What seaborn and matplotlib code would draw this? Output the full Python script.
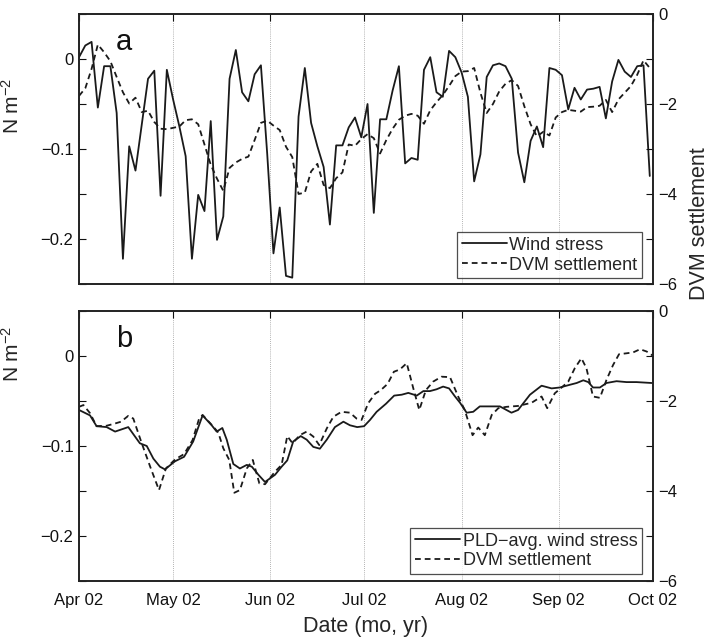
# =========================================
# IMPORT LIBRARIES
# =========================================

import numpy as np
import pandas as pd
import matplotlib
matplotlib.use("Agg")
import matplotlib.pyplot as plt
import matplotlib.dates as mdates
from matplotlib.ticker import MultipleLocator
from matplotlib.lines import Line2D
import seaborn as sns

# =========================================
# DATA
# =========================================

start = pd.Timestamp("2002-04-01")

# panel a: 2-day samples from Apr 1
days_a = np.arange(0, 184, 2)

wind_a = [0.002, 0.015, 0.019, -0.054, -0.008, -0.008, -0.060, -0.222, -0.097, -0.124,
          -0.073, -0.022, -0.013, -0.152, -0.012, -0.045, -0.075, -0.108, -0.222, -0.151,
          -0.169, -0.069, -0.201, -0.175, -0.022, 0.010, -0.037, -0.047, -0.017, -0.007,
          -0.105, -0.216, -0.165, -0.241, -0.243, -0.064, -0.010, -0.071, -0.097, -0.120,
          -0.184, -0.096, -0.096, -0.076, -0.065, -0.087, -0.050, -0.171, -0.067, -0.067,
          -0.035, -0.008, -0.116, -0.110, -0.112, -0.012, 0.002, -0.037, -0.042, 0.009,
          0.002, -0.015, -0.042, -0.136, -0.106, -0.020, -0.007, -0.005, -0.008, -0.022,
          -0.104, -0.137, -0.091, -0.075, -0.098, -0.010, -0.012, -0.018, -0.056, -0.032,
          -0.045, -0.034, -0.033, -0.031, -0.066, -0.025, -0.001, -0.014, -0.020, -0.008,
          -0.007, -0.130]

dvm_a = [-1.82, -1.65, -1.22, -0.68, -0.85, -1.05, -1.40, -1.74, -1.99, -1.86,
         -2.18, -2.15, -2.40, -2.55, -2.56, -2.53, -2.50, -2.36, -2.34, -2.45,
         -2.90, -3.35, -3.66, -3.93, -3.42, -3.30, -3.22, -3.17, -2.80, -2.42,
         -2.37, -2.48, -2.58, -2.95, -3.18, -4.00, -3.97, -3.50, -3.33, -3.80,
         -3.87, -3.65, -3.52, -2.90, -2.93, -2.78, -2.67, -2.76, -3.10, -2.80,
         -2.55, -2.35, -2.26, -2.22, -2.26, -2.44, -2.14, -1.96, -1.80, -1.60,
         -1.38, -1.28, -1.27, -1.20, -1.75, -2.20, -2.00, -1.72, -1.55, -1.47,
         -1.60, -2.05, -2.45, -2.72, -2.62, -2.70, -2.30, -2.18, -2.13, -2.15,
         -2.17, -2.07, -2.06, -2.04, -1.91, -2.18, -1.90, -1.75, -1.60, -1.35,
         -1.03, -1.20]

# panel b: PLD-averaged wind stress
days_b_wind = [0, 3.5, 5.6, 8.8, 11.5, 15.7, 19.4, 21.6, 23.7, 25.8,
               27.4, 30.6, 33.5, 36.4, 39.4, 42.3, 43.9, 45.7, 47.1, 49.2,
               51.3, 53.5, 55.1, 57.2, 59.3, 62.5, 64.6, 66.4, 68.3, 70.7,
               72.6, 74.7, 76.8, 79.0, 81.6, 84.3, 86.4, 88.7, 90.9, 92.8,
               94.9, 97.9, 100.5, 102.9, 105.0, 107.7, 109.8, 111.9, 114.0, 116.1,
               118.0, 119.9, 121.5, 123.6, 125.7, 127.8, 131.0, 134.2, 137.9, 140.0,
               143.8, 147.5, 150.7, 153.3, 156.5, 158.7, 160.8, 162.4, 163.9, 166.1,
               168.2, 171.4, 174.6, 177.8, 182.6]
wind_b = [-0.060, -0.066, -0.078, -0.079, -0.084, -0.079, -0.097, -0.100, -0.114, -0.123,
          -0.126, -0.117, -0.112, -0.095, -0.066, -0.077, -0.084, -0.080, -0.093, -0.120,
          -0.125, -0.121, -0.123, -0.132, -0.140, -0.132, -0.123, -0.116, -0.095, -0.089,
          -0.093, -0.101, -0.103, -0.093, -0.079, -0.073, -0.077, -0.079, -0.078, -0.071,
          -0.062, -0.053, -0.044, -0.043, -0.041, -0.044, -0.039, -0.039, -0.037, -0.034,
          -0.036, -0.045, -0.052, -0.063, -0.062, -0.056, -0.056, -0.056, -0.063, -0.060,
          -0.043, -0.033, -0.036, -0.035, -0.032, -0.030, -0.027, -0.029, -0.035, -0.035,
          -0.030, -0.028, -0.029, -0.029, -0.030]

# panel b: DVM settlement
days_b_dvm = [0, 1.4, 3.5, 5.6, 8.8, 11.5, 13.4, 15.7, 17.3, 20.0,
              22.9, 25.5, 27.7, 30.6, 33.5, 36.2, 38.3, 39.4, 42.3, 44.4,
              46.0, 47.9, 49.5, 51.3, 53.5, 55.4, 57.5, 59.3, 62.5, 64.6,
              66.4, 68.1, 70.4, 72.6, 74.7, 76.6, 79.0, 81.1, 83.7, 86.4,
              88.5, 90.1, 92.2, 94.4, 96.2, 98.4, 100.4, 102.3, 104.5, 106.6,
              108.5, 110.6, 112.9, 115.6, 118.3, 120.9, 123.0, 125.5, 127.3, 129.4,
              131.6, 133.7, 136.3, 140.0, 144.3, 147.5, 149.3, 151.7, 153.9, 156.0,
              158.1, 160.2, 161.8, 163.9, 166.1, 168.2, 170.3, 172.2, 174.6, 176.7,
              178.9, 181.0, 182.9]
dvm_b = [-2.13, -2.09, -2.27, -2.56, -2.55, -2.50, -2.46, -2.33, -2.39, -2.94,
         -3.50, -3.98, -3.50, -3.30, -3.18, -2.87, -2.39, -2.31, -2.53, -2.70,
         -3.05, -3.31, -4.04, -3.98, -3.50, -3.31, -3.83, -3.85, -3.57, -3.42,
         -2.78, -2.94, -2.76, -2.68, -2.79, -2.98, -2.61, -2.35, -2.24, -2.26,
         -2.39, -2.42, -2.05, -1.84, -1.76, -1.62, -1.35, -1.30, -1.16, -1.72,
         -2.20, -1.76, -1.57, -1.46, -1.47, -1.90, -2.20, -2.76, -2.59, -2.76,
         -2.31, -2.16, -2.13, -2.11, -2.04, -1.90, -2.16, -1.83, -1.70, -1.57,
         -1.27, -1.05, -1.27, -1.90, -1.93, -1.53, -1.20, -0.96, -0.94, -0.92,
         -0.85, -0.90, -0.99]

to_dates = lambda d: start + pd.to_timedelta(np.asarray(d, dtype=float), unit="D")

df_a = pd.DataFrame({"date": to_dates(days_a), "wind": wind_a, "dvm": dvm_a})
df_bw = pd.DataFrame({"date": to_dates(days_b_wind), "wind": wind_b})
df_bd = pd.DataFrame({"date": to_dates(days_b_dvm), "dvm": dvm_b})

# =========================================
# STYLE
# =========================================

sns.set_style("white")
plt.rcParams["font.family"] = ["Liberation Sans", "DejaVu Sans"]
plt.rcParams["mathtext.default"] = "regular"

LINE = "#1a1a1a"
DASH = (3.2, 2.2)

fig = plt.figure(figsize=(7.12, 6.39), dpi=100)
ax_a = fig.add_axes([0.111, 0.5556, 0.806, 0.4225])
ax_b = fig.add_axes([0.111, 0.0908, 0.806, 0.4225])


def style_panel(ax, letter, df_w, df_d, legend_labels, show_dates, label_y, leg_bottom):
    ax2 = ax.twinx()

    sns.lineplot(data=df_w, x="date", y="wind", ax=ax, color=LINE, lw=1.3)
    sns.lineplot(data=df_d, x="date", y="dvm", ax=ax2, color=LINE, lw=1.3,
                 linestyle=(0, DASH))

    ax.set_xlim(pd.Timestamp("2002-04-01"), pd.Timestamp("2002-10-01"))
    ax.set_ylim(-0.25, 0.05)
    ax2.set_ylim(-6, 0)

    ax.yaxis.set_major_locator(MultipleLocator(0.1))
    ax.yaxis.set_minor_locator(MultipleLocator(0.05))
    ax.yaxis.set_major_formatter(lambda v, p: "0" if abs(v) < 1e-9 else f"{v:.1f}".replace("-", "\u2212"))
    ax2.yaxis.set_major_locator(MultipleLocator(2))
    ax2.yaxis.set_minor_locator(MultipleLocator(1))

    ax.xaxis.set_major_locator(mdates.MonthLocator())
    ax.xaxis.set_major_formatter(mdates.DateFormatter("%b %y"))
    ax.grid(axis="x", color="#9a9a9a", linestyle=(0, (1, 1.5)), lw=0.6)
    ax.grid(axis="y", visible=False)

    for a in (ax, ax2):
        a.tick_params(which="both", direction="in", length=5, width=0.8,
                      labelsize=12, colors="#111111")
        for s in a.spines.values():
            s.set_color("#222222")
            s.set_linewidth(1.2)
    ax.tick_params(axis="x", top=True, pad=9)
    ax.tick_params(axis="y", pad=4)
    ax2.tick_params(axis="y", pad=4)
    if not show_dates:
        ax.tick_params(axis="x", labelbottom=False)

    ax.set_xlabel("")
    ax.set_ylabel(r"N m$^{-2}$", fontsize=15)
    ax.yaxis.set_label_coords(-0.098, label_y)
    ax2.set_ylabel("")

    ax.text(0.079, 0.867, letter, transform=ax.transAxes, fontsize=21,
            ha="center", va="baseline", color="#111111")

    handles = [Line2D([], [], color=LINE, lw=1.3),
               Line2D([], [], color=LINE, lw=1.3, linestyle=(0, DASH))]
    leg = ax2.legend(handles, legend_labels, loc="lower right",
                     bbox_to_anchor=(0.981, leg_bottom), fontsize=13,
                     frameon=True, fancybox=False, edgecolor="#222222",
                     handlelength=2.5, handletextpad=0.15, borderpad=0.25,
                     labelspacing=0.15, borderaxespad=0)
    leg.get_frame().set_linewidth(0.9)
    return ax2


style_panel(ax_a, "a", df_a, df_a, ["Wind stress", "DVM settlement"], False, 0.66, 0.022)
style_panel(ax_b, "b", df_bw, df_bd, ["PLD\u2212avg. wind stress", "DVM settlement"], True, 0.84, 0.026)

fig.text(0.514, 0.02, "Date (mo, yr)", ha="center", va="center", fontsize=15.5)
fig.text(0.983, 0.65, "DVM settlement", ha="center", va="center",
         rotation=90, fontsize=15.5)

plt.savefig("out.png", dpi=100)
